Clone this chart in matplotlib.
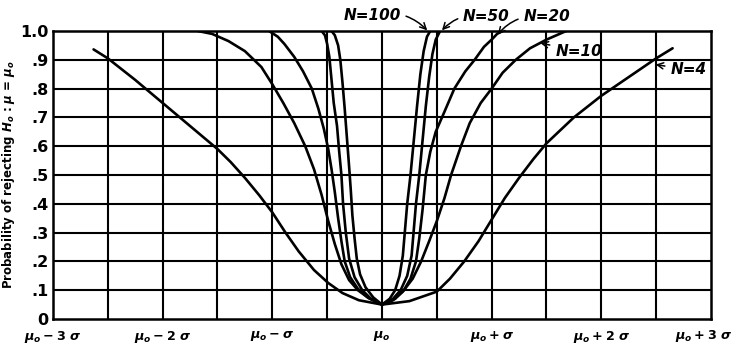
import numpy as np
import matplotlib
matplotlib.use('Agg')
import matplotlib.pyplot as plt

# bold italic math for the mu / sigma labels
plt.rcParams['mathtext.fontset'] = 'custom'
plt.rcParams['mathtext.it'] = 'DejaVu Sans:italic:bold'
plt.rcParams['mathtext.rm'] = 'DejaVu Sans:bold'
plt.rcParams['mathtext.bf'] = 'DejaVu Sans:bold'

# power curves (x in units of sigma from mu_o)
x_n4 = [-2.63, -2.5, -2.25, -2.0, -1.75, -1.5, -1.38, -1.25, -1.12, -1.0, -0.88, -0.76, -0.62, -0.49, -0.36, -0.21, 0.0,
        0.25, 0.5, 0.62, 0.75, 0.88, 1.0, 1.12, 1.25, 1.38, 1.5, 1.75, 2.0, 2.25, 2.5, 2.65]
p_n4 = [0.936, 0.905, 0.83, 0.75, 0.67, 0.59, 0.545, 0.49, 0.43, 0.37, 0.30, 0.235, 0.17, 0.125, 0.09, 0.065, 0.05,
        0.062, 0.095, 0.14, 0.20, 0.27, 0.345, 0.42, 0.49, 0.555, 0.61, 0.70, 0.775, 0.84, 0.905, 0.94]

x_n10 = [-1.68, -1.55, -1.4, -1.25, -1.1, -1.0, -0.9, -0.8, -0.7, -0.62, -0.55, -0.49, -0.43, -0.37, -0.30, -0.22, -0.12, 0.0,
         0.1, 0.19, 0.28, 0.357, 0.43, 0.5, 0.57, 0.63, 0.72, 0.8, 0.9, 1.0, 1.1, 1.22, 1.35, 1.5, 1.68]
p_n10 = [1.0, 0.99, 0.965, 0.93, 0.875, 0.815, 0.75, 0.68, 0.60, 0.52, 0.43, 0.34, 0.26, 0.19, 0.135, 0.10, 0.072, 0.05,
         0.065, 0.095, 0.14, 0.20, 0.27, 0.34, 0.42, 0.50, 0.60, 0.68, 0.75, 0.80, 0.855, 0.90, 0.94, 0.97, 1.0]

x_n20 = [-1.03, -0.95, -0.89, -0.8, -0.72, -0.64, -0.58, -0.53, -0.49, -0.46, -0.43, -0.40, -0.37, -0.34, -0.29, -0.22, -0.13, 0.0,
         0.12, 0.2, 0.26, 0.31, 0.34, 0.37, 0.40, 0.44, 0.49, 0.57, 0.66, 0.76, 0.845, 0.93, 1.0, 1.05, 1.1]
p_n20 = [1.0, 0.98, 0.955, 0.91, 0.86, 0.80, 0.73, 0.66, 0.59, 0.52, 0.44, 0.35, 0.27, 0.20, 0.145, 0.105, 0.075, 0.05,
         0.07, 0.10, 0.14, 0.20, 0.28, 0.38, 0.50, 0.58, 0.65, 0.72, 0.80, 0.86, 0.90, 0.945, 0.97, 0.99, 1.0]

x_n50 = [-0.55, -0.52, -0.50, -0.48, -0.46, -0.44, -0.41, -0.39, -0.37, -0.355, -0.33, -0.30, -0.25, -0.18, -0.10, 0.0,
         0.1, 0.17, 0.23, 0.27, 0.29, 0.31, 0.34, 0.37, 0.40, 0.43, 0.46, 0.49, 0.53]
p_n50 = [1.0, 0.985, 0.955, 0.91, 0.83, 0.75, 0.67, 0.58, 0.50, 0.40, 0.30, 0.21, 0.145, 0.10, 0.07, 0.05,
         0.07, 0.10, 0.15, 0.22, 0.31, 0.40, 0.50, 0.62, 0.74, 0.84, 0.92, 0.97, 1.0]

x_n100 = [-0.46, -0.43, -0.40, -0.38, -0.36, -0.34, -0.32, -0.30, -0.285, -0.27, -0.25, -0.23, -0.20, -0.15, -0.08, 0.0,
          0.07, 0.12, 0.16, 0.19, 0.21, 0.23, 0.26, 0.29, 0.32, 0.35, 0.38, 0.41, 0.44]
p_n100 = [1.0, 0.985, 0.95, 0.90, 0.82, 0.73, 0.63, 0.53, 0.45, 0.36, 0.28, 0.21, 0.155, 0.11, 0.075, 0.05,
          0.07, 0.10, 0.15, 0.22, 0.31, 0.40, 0.50, 0.62, 0.74, 0.85, 0.93, 0.98, 1.0]

xtick_pos = [-3, -2, -1, 0, 1, 2, 3]
xtick_txt = [r'$\mu_o - 3\ \sigma$', r'$\mu_o - 2\ \sigma$', r'$\mu_o - \sigma$', r'$\mu_o$',
             r'$\mu_o + \sigma$', r'$\mu_o + 2\ \sigma$', r'$\mu_o + 3\ \sigma$']
ytick_pos = [0, .1, .2, .3, .4, .5, .6, .7, .8, .9, 1.0]
ytick_txt = ['0', '.1', '.2', '.3', '.4', '.5', '.6', '.7', '.8', '.9', '1.0']

fig = plt.figure(figsize=(7.38, 3.45), dpi=100)
ax = fig.add_axes([0.0718, 0.0754, 0.8916, 0.8348])

# grid: every half sigma, every 0.1
for gx in np.arange(-2.5, 3.0, 0.5):
    ax.axvline(gx, color='black', lw=1.5, zorder=1)
for gy in np.arange(0.1, 1.0, 0.1):
    ax.axhline(gy, color='black', lw=1.5, zorder=1)

for xs, ps in [(x_n4, p_n4), (x_n10, p_n10), (x_n20, p_n20), (x_n50, p_n50), (x_n100, p_n100)]:
    ax.plot(xs, ps, color='black', lw=1.9, solid_capstyle='round', solid_joinstyle='round', zorder=3)

ax.set_xlim(-3, 3)
ax.set_ylim(0, 1)
for s in ax.spines.values():
    s.set_linewidth(1.8)

# last x label sits at the figure edge, so it is placed by hand instead of as a tick label
ax.set_xticks(xtick_pos)
ax.set_xticklabels(xtick_txt[:-1] + [''], fontsize=9.2)
ax.text(3.2, -0.032, xtick_txt[-1], transform=ax.get_xaxis_transform(), ha='right', va='top', fontsize=9.2)
ax.set_yticks(ytick_pos)
ax.set_yticklabels(ytick_txt, fontsize=11.5, fontweight='bold')
ax.tick_params(length=0, pad=3)
ax.tick_params(axis='x', pad=7)
ax.set_ylabel(r'Probability of rejecting $H_o$ : $\mu$ = $\mu_o$', fontsize=8.5, fontweight='bold')
ax.yaxis.set_label_coords(-0.055, 0.5)

# curve labels with arrows
lab_style = dict(fontsize=11, fontstyle='italic', fontweight='bold', annotation_clip=False)
arr = dict(arrowstyle='->', color='black', lw=1.1)
ax.annotate('N=100', xy=(0.43, 0.995), xytext=(0.17, 1.055), ha='right', va='center',
            arrowprops=dict(arr, connectionstyle='arc3,rad=-0.3'), **lab_style)
ax.annotate('N=50', xy=(0.53, 0.995), xytext=(0.74, 1.05), ha='left', va='center',
            arrowprops=dict(arr, connectionstyle='arc3,rad=0.3'), **lab_style)
ax.annotate('N=20', xy=(1.04, 0.98), xytext=(1.29, 1.05), ha='left', va='center',
            arrowprops=dict(arr, connectionstyle='arc3,rad=0.3'), **lab_style)
ax.annotate('N=10', xy=(1.42, 0.96), xytext=(1.58, 0.93), ha='left', va='center',
            arrowprops=dict(arr), **lab_style)
ax.annotate('N=4', xy=(2.47, 0.885), xytext=(2.63, 0.865), ha='left', va='center',
            arrowprops=dict(arr), **lab_style)

fig.savefig('out.png', dpi=100)
